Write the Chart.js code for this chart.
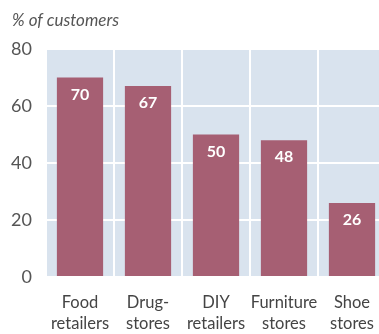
<!DOCTYPE html>
<html>
<head>
<meta charset="utf-8">
<script src="https://cdn.jsdelivr.net/npm/chart.js@4"></script>
<style>
  html, body { margin: 0; padding: 0; background: #fff; overflow: hidden; width: 379px; height: 334px; }
  #wrap { width: 390px; height: 334px; }
</style>
</head>
<body>
<div id="wrap"><canvas id="chart" width="390" height="334"></canvas></div>
<script>
// Share of customers by store type
const storeTypes = [
    ['Food', 'retailers'],
    ['Drug-', 'stores'],
    ['DIY', 'retailers'],
    ['Furniture', 'stores'],
    ['Shoe', 'stores']
];
const customerShare = [70, 67, 50, 48, 26];
const yTicks = [0, 20, 40, 60, 80];

const panelColor = '#d9e3ee';
const barColor = '#a65f73';

// Fill the plot area before the grid is drawn
const panelBackground = {
    id: 'panelBackground',
    beforeDraw(chart) {
        const { ctx, chartArea } = chart;
        ctx.save();
        ctx.fillStyle = panelColor;
        ctx.fillRect(chartArea.left, chartArea.top, chartArea.right - chartArea.left, chartArea.bottom - chartArea.top);
        ctx.restore();
    }
};

// Value labels inside the top of each bar, plus the unit caption
const barLabels = {
    id: 'barLabels',
    afterDatasetsDraw(chart) {
        const { ctx } = chart;
        const meta = chart.getDatasetMeta(0);
        ctx.save();
        ctx.fillStyle = '#ffffff';
        ctx.font = 'bold 16px Lato';
        ctx.textAlign = 'center';
        ctx.textBaseline = 'middle';
        meta.data.forEach((bar, i) => {
            ctx.fillText(String(customerShare[i]), bar.x, bar.y + 17);
        });

        ctx.fillStyle = '#555555';
        ctx.font = 'italic 17px Lato';
        ctx.textAlign = 'left';
        ctx.textBaseline = 'middle';
        ctx.fillText('% of customers', 12, 21);
        ctx.restore();
    }
};

new Chart(document.getElementById('chart'), {
    type: 'bar',
    data: {
        labels: storeTypes,
        datasets: [{
            data: customerShare,
            backgroundColor: barColor,
            borderWidth: 0,
            categoryPercentage: 1,
            barPercentage: 0.68
        }]
    },
    options: {
        responsive: false,
        animation: false,
        layout: { padding: { top: 49, right: 4, left: 0, bottom: 0 } },
        plugins: {
            legend: { display: false },
            tooltip: { enabled: false }
        },
        scales: {
            x: {
                offset: true,
                grid: { color: '#ffffff', lineWidth: 2, drawTicks: false, offset: true },
                border: { display: false },
                ticks: {
                    color: '#444444',
                    font: { family: 'Lato', size: 16.5, lineHeight: 1.28 },
                    padding: 15,
                    maxRotation: 0,
                    autoSkip: false
                },
                afterFit(scale) { scale.height = 57; }
            },
            y: {
                min: 0,
                max: 80,
                afterBuildTicks(scale) { scale.ticks = yTicks.map(v => ({ value: v })); },
                grid: { color: '#ffffff', lineWidth: 2, drawTicks: false },
                border: { display: false },
                ticks: {
                    color: '#555555',
                    font: { family: 'Lato', size: 18 },
                    padding: 14
                },
                afterFit(scale) { scale.width = 46; }
            }
        }
    },
    plugins: [panelBackground, barLabels]
});
</script>
</body>
</html>
